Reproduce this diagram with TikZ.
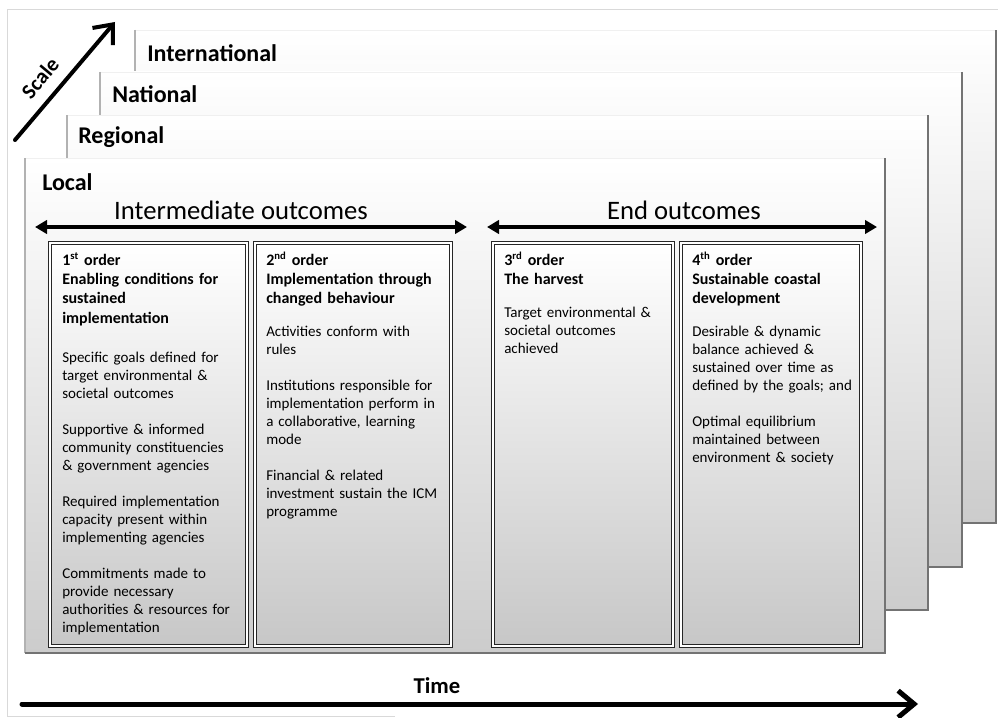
\documentclass[tikz,border=0pt]{standalone}
\usepackage{fontspec}
\setmainfont{Carlito}
\usetikzlibrary{arrows.meta}

\tikzset{
  layer/.style={top color=white, bottom color=black!20, draw=black!6, line width=0.6pt},
  rim/.style={draw=black!55, line width=1pt},
  stage/.style={top color=white, bottom color=black!22, draw=black!85, line width=1.1pt, double=white, double distance=0.9pt},
  level/.style={anchor=base west, inner sep=0pt, font=\bfseries\fontsize{18}{20}\selectfont},
  phase/.style={anchor=base, inner sep=0pt, font=\fontsize{20}{22}\selectfont},
  head/.style={anchor=base west, inner sep=0pt, text width=150pt, align=left, font=\bfseries\fontsize{12}{14.6}\selectfont},
  body/.style={anchor=base west, inner sep=0pt, text width=150pt, align=left, font=\fontsize{11.25}{13.5}\selectfont},
  span/.style={line width=2.4pt, {Triangle[length=9pt,width=10pt]}-{Triangle[length=9pt,width=10pt]}},
  axis/.style={line width=#1, line cap=round, -{Straight Barb[length=12pt,width=20pt]}},
}

\begin{document}
\begin{tikzpicture}[x=0.75pt, y=-0.75pt]
  \useasboundingbox (0,0) rectangle (998,717);
  \draw[black!15] (395,716) -- (7,716) -- (7,9) -- (998,9);

  \foreach \name/\l/\t/\r/\b/\lx/\ly in {International/135/30/996/523/147/61,
      National/100/72/962/567/112/102, Regional/67/115/928/610/78/143, Local/25/158/885/653/42/190} {
    \path[layer] (\l,\t) rectangle (\r,\b);
    \draw[rim, black!30] (\l,\t) -- (\l,\b);
    \draw[rim] (\l,\b) -- (\r,\b) -- (\r,\t);
    \node[level] (\name) at (\lx,\ly) {\name};
  }

  \coordinate (s0) at (15,140);
  \coordinate (s1) at (115,22);
  \draw[axis=3pt] (s0) -- (s1);
  \node[rotate=50, inner sep=0pt, font=\bfseries\fontsize{16}{18}\selectfont] (scale) at (40,78) {Scale};

  \coordinate (i0) at (35,227);
  \coordinate (i1) at (467,227);
  \coordinate (e0) at (487,227);
  \coordinate (e1) at (877,227);
  \draw[span] (i0) -- (i1);
  \draw[span] (e0) -- (e1);
  \node[phase] (inter) at (241,219) {Intermediate outcomes};
  \node[phase] (endout) at (684,219) {End outcomes};

  \foreach \l/\r in {50/247, 255/451, 493/673, 681/861}
    \draw[stage] (\l,243) rectangle (\r,646);

  \node[head] (h1) at (62,265) {1\textsuperscript{st} order\\Enabling conditions for\\sustained\\implementation};
  \node[body] (b1) at (62,362) {Specific goals defined for\\target environmental \&\\societal outcomes\\[13.5pt]
    Supportive \& informed\\community constituencies\\\& government agencies\\[13.5pt]
    Required implementation\\capacity present within\\implementing agencies\\[13.5pt]
    Commitments made to\\provide necessary\\authorities \& resources for\\implementation};

  \node[head] (h2) at (266,265) {2\textsuperscript{nd} order\\Implementation through\\changed behaviour};
  \node[body] (b2) at (266,336) {Activities conform with\\rules\\[13.5pt]
    Institutions responsible for\\implementation perform in\\a collaborative, learning\\mode\\[13.5pt]
    Financial \& related\\investment sustain the ICM\\programme};

  \node[head] (h3) at (504,265) {3\textsuperscript{rd} order\\The harvest};
  \node[body] (b3) at (504,317) {Target environmental \&\\societal outcomes\\achieved};

  \node[head] (h4) at (692,265) {4\textsuperscript{th} order\\Sustainable coastal\\development};
  \node[body] (b4) at (692,336) {Desirable \& dynamic\\balance achieved \&\\sustained over time as\\defined by the goals; and\\[13.5pt]
    Optimal equilibrium\\maintained between\\environment \& society};

  \coordinate (t0) at (22,704);
  \coordinate (t1) at (918,704);
  \draw[axis=3.75pt] (t0) -- (t1);
  \node[anchor=base, inner sep=0pt, font=\bfseries\fontsize{17}{19}\selectfont] (time) at (437,693) {Time};
\end{tikzpicture}
\end{document}
